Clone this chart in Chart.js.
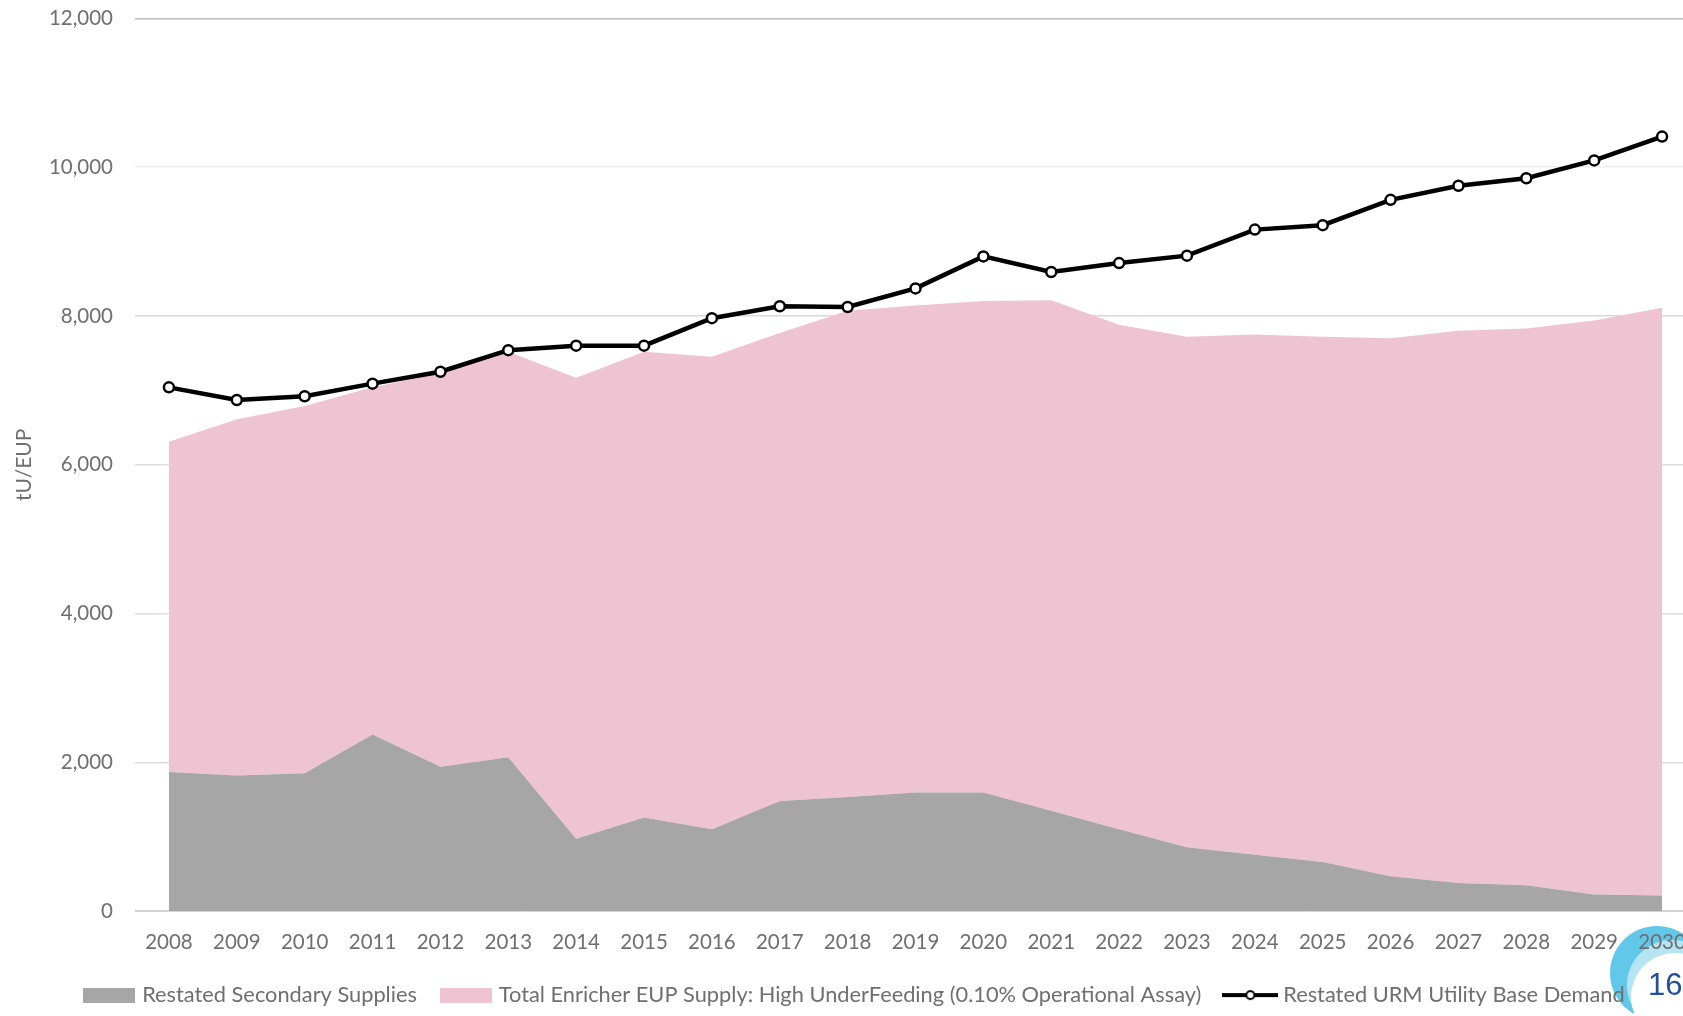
<!DOCTYPE html>
<html>
<head>
<meta charset="utf-8">
<script src="https://cdn.jsdelivr.net/npm/chart.js@4"></script>
<style>
html,body{margin:0;padding:0;background:#fff;width:1683px;height:1016px;overflow:hidden}
#wrap{position:absolute;left:0;top:0;width:1683px;height:1016px;overflow:hidden}
#holder{position:absolute;left:0;top:-16px;width:1706px;height:1032px;filter:blur(0.55px);z-index:2}
canvas{display:block}
.disc{position:absolute;border-radius:50%;z-index:1}
#num{position:absolute;left:1648px;top:967px;font:31px "Liberation Sans",sans-serif;color:#24509a;z-index:3}
</style>
</head>
<body>
<div id="wrap">
  <div class="disc" style="left:1610px;top:926px;width:94px;height:94px;background:#62c8ea"></div>
  <div class="disc" style="left:1627px;top:940px;width:90px;height:90px;background:#b5e4f3"></div>
  <div class="disc" style="left:1631px;top:953px;width:88px;height:88px;background:#fff"></div>
  <div id="holder"><canvas id="c" width="1706" height="1032"></canvas></div>
  <div id="num">16</div>
</div>
<script>
const years = ["2008","2009","2010","2011","2012","2013","2014","2015","2016","2017","2018","2019","2020","2021","2022","2023","2024","2025","2026","2027","2028","2029","2030"];
const secondarySupplies = [1870,1825,1855,2375,1940,2070,975,1260,1100,1480,1535,1595,1595,1350,1100,860,760,660,470,380,350,225,210];
const enricherSupply = [4440,4785,4935,4665,5290,5450,6195,6260,6350,6290,6535,6545,6605,6860,6780,6860,6990,7060,7230,7420,7480,7715,7900];
const utilityDemand = [7040,6870,6920,7090,7250,7540,7600,7600,7970,8130,8120,8370,8800,8590,8710,8810,9160,9220,9560,9750,9850,10090,10410];
const yTicks = [0,2000,4000,6000,8000,10000,12000];
const gridColors = ["#d4d4d4","#d9d9d9","#dcdcdc","#dcdcdc","#d9d9d9","#eeeeee","#bcbcbc"];
const textColor = "#6f6f6f";
const fontFamily = "Lato, Carlito, sans-serif";

function swatch(ds){
  const cv = document.createElement("canvas");
  const x = cv.getContext("2d");
  if (ds.stack === "demand") {
    cv.width = 56; cv.height = 14;
    x.strokeStyle = "#000"; x.lineWidth = 4;
    x.beginPath(); x.moveTo(0,7); x.lineTo(56,7); x.stroke();
    x.fillStyle = "#fff"; x.lineWidth = 2;
    x.beginPath(); x.arc(28,7,4,0,Math.PI*2); x.fill(); x.stroke();
  } else {
    cv.width = 52; cv.height = 15;
    x.fillStyle = ds.backgroundColor; x.fillRect(0,0,52,15);
  }
  return cv;
}

new Chart(document.getElementById("c"), {
  type: "line",
  data: {
    labels: years,
    datasets: [
      {label:"Restated Secondary Supplies", data:secondarySupplies, stack:"supply", fill:"origin",
       backgroundColor:"#a6a6a6", borderColor:"#a6a6a6", borderWidth:0, pointRadius:0, tension:0, order:1},
      {label:"Total Enricher EUP Supply: High UnderFeeding (0.10% Operational Assay)", data:enricherSupply, stack:"supply", fill:"-1",
       backgroundColor:"#efc4d2", borderColor:"#efc4d2", borderWidth:0, pointRadius:0, tension:0, order:2},
      {label:"Restated URM Utility Base Demand", data:utilityDemand, stack:"demand", fill:false,
       borderColor:"#000", backgroundColor:"#fff", borderWidth:4.5, pointRadius:5, pointBorderWidth:2.5,
       pointBackgroundColor:"#fff", pointBorderColor:"#000", tension:0, order:0}
    ]
  },
  options: {
    responsive:false, animation:false, devicePixelRatio:1,
    layout:{padding:{top:6,right:10,left:16,bottom:0}},
    plugins:{
      tooltip:{enabled:false},
      title:{display:false},
      legend:{
        display:true, position:"bottom", align:"center",
        labels:{
          usePointStyle:true, pointStyleWidth:44, boxHeight:15, padding:27,
          color:textColor, font:{family:fontFamily,size:21.8},
          generateLabels(chart){
            return chart.data.datasets.map((ds,i)=>({
              text:ds.label, datasetIndex:i, fontColor:textColor,
              pointStyle:swatch(ds), fillStyle:ds.backgroundColor, strokeStyle:ds.borderColor, lineWidth:0
            }));
          }
        }
      }
    },
    scales:{
      x:{
        type:"category", offset:true, stacked:true,
        afterFit(s){ s.height = 46; },
        grid:{display:false,drawTicks:false},
        border:{color:"#d4d4d4"},
        ticks:{autoSkip:false,maxRotation:0,minRotation:0,padding:19,color:textColor,font:{family:fontFamily,size:20.5}}
      },
      y:{
        min:0,max:12000,stacked:true,
        afterFit(s){ s.width = 119; },
        afterBuildTicks(s){ s.ticks = yTicks.map(v=>({value:v})); },
        grid:{drawTicks:false,lineWidth:1.4,color:c=>gridColors[c.index]||"#d9d9d9"},
        border:{display:false},
        title:{display:true,text:"tU/EUP",color:textColor,font:{family:fontFamily,size:21},padding:{top:-4,bottom:0}},
        ticks:{padding:22,color:textColor,font:{family:fontFamily,size:20.5},callback:v=>v.toLocaleString("en-US")}
      }
    }
  }
});
</script>
</body>
</html>
